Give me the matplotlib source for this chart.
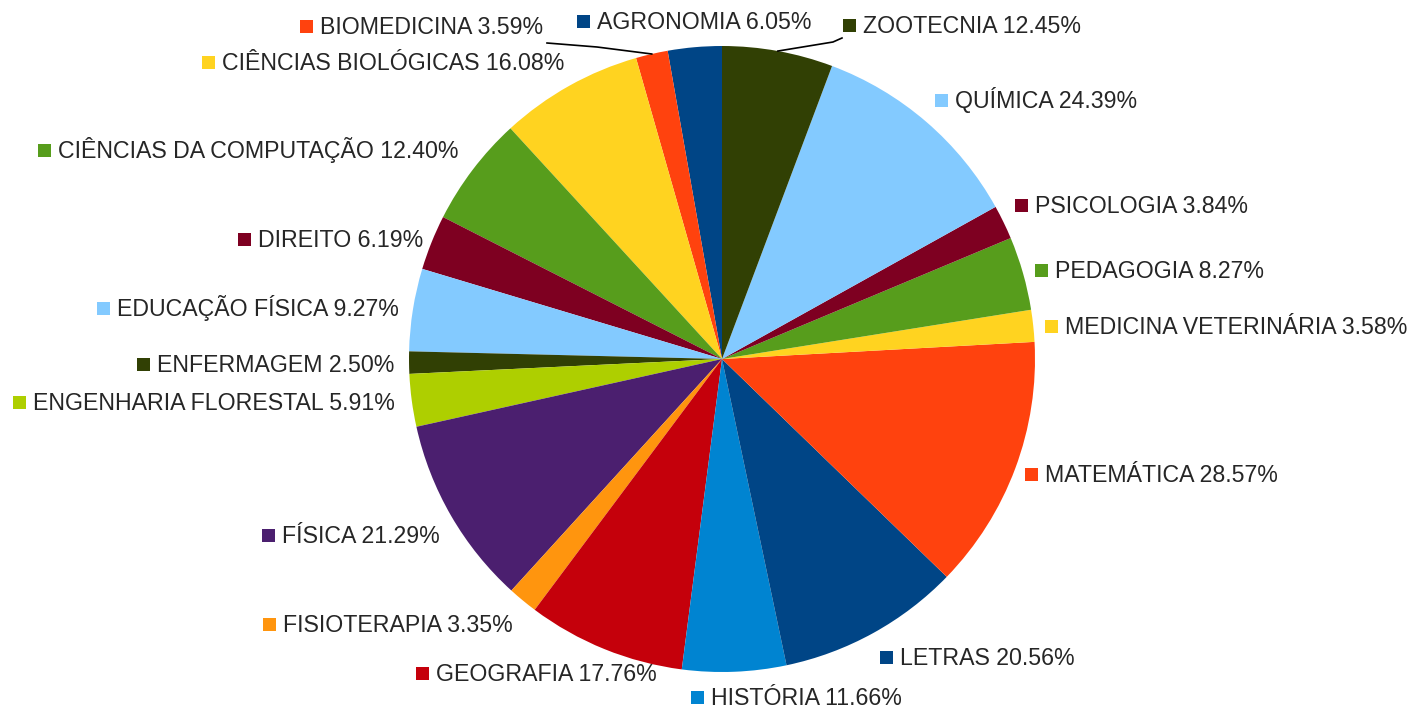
import numpy as np
import matplotlib
matplotlib.use("Agg")
import matplotlib.pyplot as plt
from matplotlib.patches import Rectangle

plt.rcParams['font.family'] = ['Liberation Sans', 'DejaVu Sans']

# dados (ordem alfabetica, desenhados no sentido anti-horario a partir do topo)
cursos = ["AGRONOMIA", "BIOMEDICINA", "CIÊNCIAS BIOLÓGICAS", "CIÊNCIAS DA COMPUTAÇÃO",
          "DIREITO", "EDUCAÇÃO FÍSICA", "ENFERMAGEM", "ENGENHARIA FLORESTAL", "FÍSICA",
          "FISIOTERAPIA", "GEOGRAFIA", "HISTÓRIA", "LETRAS", "MATEMÁTICA",
          "MEDICINA VETERINÁRIA", "PEDAGOGIA", "PSICOLOGIA", "QUÍMICA", "ZOOTECNIA"]
valores = [6.05, 3.59, 16.08, 12.40, 6.19, 9.27, 2.50, 5.91, 21.29,
           3.35, 17.76, 11.66, 20.56, 28.57, 3.58, 8.27, 3.84, 24.39, 12.45]

paleta = ["#004586", "#ff420e", "#ffd320", "#579d1c", "#7e0021", "#83caff",
          "#314004", "#aecf00", "#4b1f6f", "#ff950e", "#c5000b", "#0084d1"]
cores = [paleta[i % len(paleta)] for i in range(len(cursos))]

# posicao dos rotulos (canto esq. do quadrado, centro vertical) em pixels da imagem
pos_rotulos = [(577, 21), (300, 26), (202, 62), (38, 150), (238, 239), (97, 308),
               (137, 364), (13, 402), (262, 535), (263, 624), (416, 673), (691, 697),
               (880, 657), (1025, 474), (1045, 326), (1035, 270), (1015, 205),
               (935, 100), (843, 25)]
# linhas guia: indice do curso -> pontos de partida
guias = {1: [(547, 43), (597, 47)], 18: [(842, 38), (833, 42)]}

W, H = 1410, 708
cx, cy, R = 722, 359, 313

fig = plt.figure(figsize=(W / 100, H / 100), dpi=100)
ax = fig.add_axes([0, 0, 1, 1])
wedges, _ = ax.pie(valores, colors=cores, startangle=90, counterclock=True,
                   center=(cx, H - cy), radius=R, wedgeprops=dict(linewidth=0))
ax.set_xlim(0, W)
ax.set_ylim(0, H)
ax.set_aspect('equal')
ax.axis('off')

sq = 13
for i, nome in enumerate(cursos):
    x, y = pos_rotulos[i]
    ax.add_patch(Rectangle((x, H - y - sq / 2), sq, sq, facecolor=cores[i], edgecolor='none'))
    ax.text(x + sq + 7, H - y - 8, "%s %.2f%%" % (nome, valores[i]), fontsize=16.7,
            color='#262626', ha='left', va='baseline')

for i, pts in guias.items():
    w = wedges[i]
    ang = np.deg2rad((w.theta1 + w.theta2) / 2)
    xs = [p[0] for p in pts] + [cx + R * np.cos(ang)]
    ys = [H - p[1] for p in pts] + [H - cy + R * np.sin(ang)]
    ax.plot(xs, ys, color='black', linewidth=1.2)

fig.savefig("out.png", dpi=100)
